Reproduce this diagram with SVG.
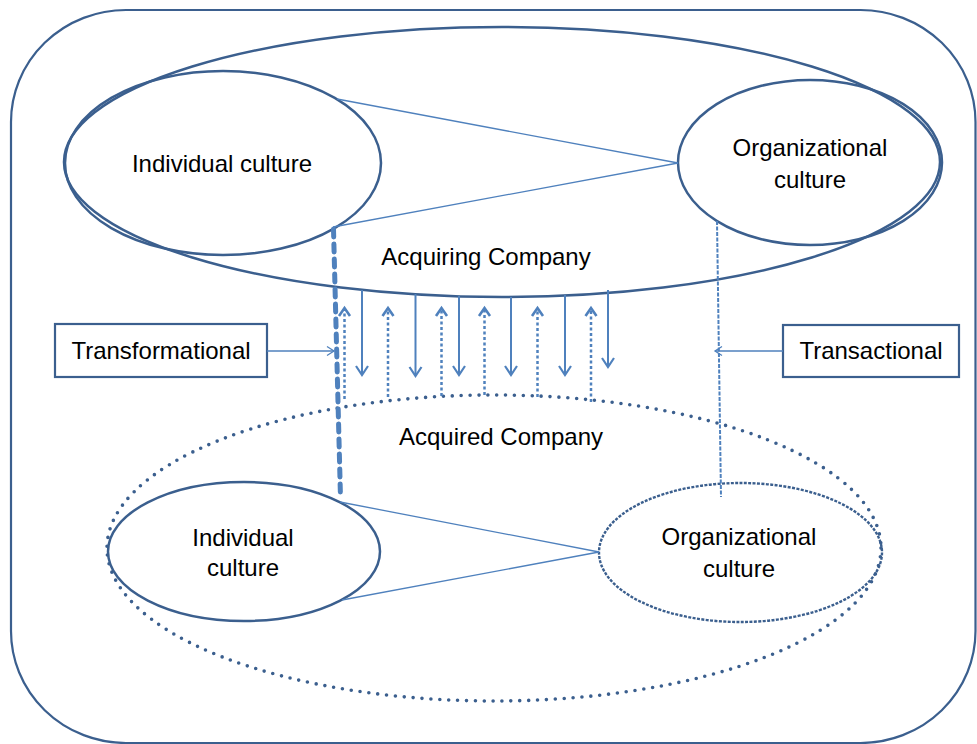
<svg xmlns="http://www.w3.org/2000/svg" width="977" height="744" viewBox="0 0 977 744">
<defs>
<style>
  .frame{fill:none;stroke:#3B5F8E;stroke-width:2.2}
  .oval{fill:none;stroke:#3B5F8E;stroke-width:2.5}
  .oval-dash{fill:none;stroke:#3B5F8E;stroke-width:2.4;stroke-dasharray:3 1.4}
  .oval-dot{fill:none;stroke:#3B5F8E;stroke-width:3.6;stroke-linecap:round;stroke-dasharray:0 8.9}
  .box{fill:#fff;stroke:#3B5F8E;stroke-width:2.2}
  .txt{font-family:"Liberation Sans",Arial,sans-serif;font-size:24px;fill:#000;text-anchor:middle}
  .link{stroke:#4F81BD;stroke-width:1.3;fill:none}
  .pointer{stroke:#4F81BD;stroke-width:1.3;fill:none;marker-end:url(#headThin)}
  .down{stroke:#4F81BD;stroke-width:2;fill:none;marker-end:url(#headDown)}
  .up{stroke:#4F81BD;stroke-width:2.5;stroke-dasharray:3 2.5;fill:none;marker-end:url(#headUp)}
  .bold-dash{stroke:#4F81BD;stroke-width:5;stroke-linecap:round;stroke-dasharray:8 7;fill:none}
  .fine-dash{stroke:#4F81BD;stroke-width:2;stroke-dasharray:4 1.5;fill:none}
</style>
<marker id="headDown" markerUnits="userSpaceOnUse" orient="auto" overflow="visible" refX="0" refY="0" markerWidth="1" markerHeight="1">
  <path d="M-9,-6 L0,0 L-9,6" fill="none" stroke="#4F81BD" stroke-width="2.2"/>
</marker>
<marker id="headUp" markerUnits="userSpaceOnUse" orient="auto" overflow="visible" refX="0" refY="0" markerWidth="1" markerHeight="1">
  <path d="M-8,-5.5 L0,0 L-8,5.5" fill="none" stroke="#4F81BD" stroke-width="2.6"/>
</marker>
<marker id="headThin" markerUnits="userSpaceOnUse" orient="auto" overflow="visible" refX="0" refY="0" markerWidth="1" markerHeight="1">
  <path d="M-7,-4.5 L0,0 L-7,4.5" fill="none" stroke="#4F81BD" stroke-width="1.3"/>
</marker>
</defs>

<rect width="977" height="744" fill="#fff"/>

<!-- outer frame -->
<rect id="frame" class="frame" x="11" y="10" width="964.5" height="733" rx="115" ry="112"/>

<!-- company containers -->
<g id="acquiring-company">
  <ellipse class="oval" cx="502" cy="162" rx="438" ry="135"/>
  <text class="txt" x="486" y="265">Acquiring Company</text>
</g>
<g id="acquired-company">
  <ellipse class="oval-dot" cx="494" cy="548" rx="387" ry="153"/>
  <text class="txt" x="501" y="445">Acquired Company</text>
</g>

<!-- culture nodes -->
<g id="acq-individual">
  <ellipse class="oval" cx="223" cy="163" rx="158" ry="92"/>
  <text class="txt" x="222" y="172">Individual culture</text>
</g>
<g id="acq-organizational">
  <ellipse class="oval" cx="810" cy="162.5" rx="132" ry="82.5"/>
  <text class="txt" x="810" y="156">Organizational</text>
  <text class="txt" x="810" y="188">culture</text>
</g>
<g id="tgt-individual">
  <ellipse class="oval" cx="244" cy="551.5" rx="136" ry="69.5"/>
  <text class="txt" x="243" y="546">Individual</text>
  <text class="txt" x="243" y="576">culture</text>
</g>
<g id="tgt-organizational">
  <ellipse class="oval-dash" cx="740.5" cy="552.5" rx="141.5" ry="69.5"/>
  <text class="txt" x="739" y="545">Organizational</text>
  <text class="txt" x="739" y="577">culture</text>
</g>

<!-- integration approach labels -->
<g id="transformational">
  <rect class="box" x="55" y="324" width="212" height="53"/>
  <text class="txt" x="161" y="359">Transformational</text>
</g>
<g id="transactional">
  <rect class="box" x="783" y="325" width="176" height="52"/>
  <text class="txt" x="871" y="359">Transactional</text>
</g>

<!-- connectors -->
<g id="connectors">
  <line class="link" x1="337" y1="99" x2="678" y2="163"/>
  <line class="link" x1="333" y1="227" x2="678" y2="163"/>
  <line class="link" x1="340" y1="502" x2="599" y2="552"/>
  <line class="link" x1="342" y1="600" x2="599" y2="552"/>

  <line class="bold-dash" x1="333.5" y1="229" x2="340.5" y2="498"/>
  <line class="fine-dash" x1="717" y1="221" x2="721" y2="497"/>

  <line class="pointer" x1="267" y1="351" x2="334" y2="351"/>
  <line class="pointer" x1="783" y1="351" x2="715" y2="351"/>

  <line class="down" x1="362" y1="290" x2="362" y2="375"/>
  <line class="down" x1="415.5" y1="294" x2="415.5" y2="376"/>
  <line class="down" x1="459" y1="296" x2="459" y2="375"/>
  <line class="down" x1="511" y1="297" x2="511" y2="375"/>
  <line class="down" x1="565" y1="295" x2="565" y2="375"/>
  <line class="down" x1="608" y1="290" x2="608" y2="367"/>

  <line class="up" x1="344.5" y1="399" x2="344.5" y2="308"/>
  <line class="up" x1="388" y1="397" x2="388" y2="308"/>
  <line class="up" x1="441.5" y1="396" x2="441.5" y2="308"/>
  <line class="up" x1="484.5" y1="395" x2="484.5" y2="308"/>
  <line class="up" x1="537.5" y1="397" x2="537.5" y2="308"/>
  <line class="up" x1="591" y1="402" x2="591" y2="308"/>
</g>
</svg>
